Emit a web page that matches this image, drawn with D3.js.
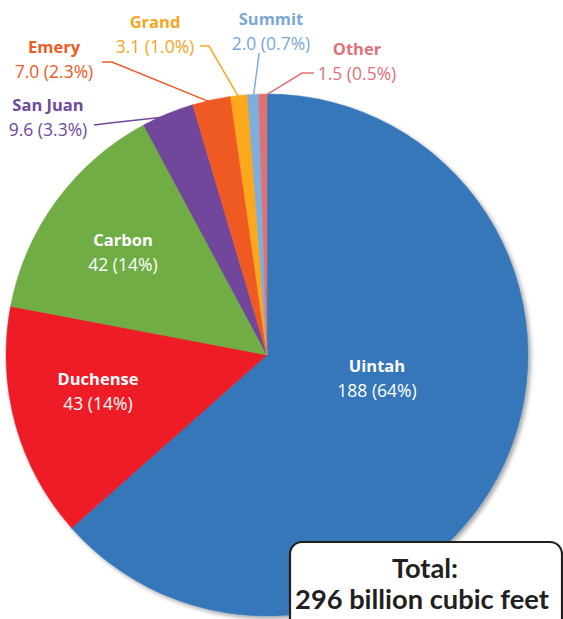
<!DOCTYPE html>
<html>
<head>
<meta charset="utf-8">
<script src="https://cdn.jsdelivr.net/npm/d3@7"></script>
<style>
  html, body { margin: 0; padding: 0; background: #fff; }
  svg { display: block; }
  text { font-family: "Open Sans", Lato, "Liberation Sans", sans-serif; }
</style>
</head>
<body>
<svg id="chart" width="563" height="619"></svg>
<script>
// ---- data ----
const categories = ["Uintah", "Duchense", "Carbon", "San Juan", "Emery", "Grand", "Summit", "Other"];
const values     = [188, 43, 42, 9.6, 7.0, 3.1, 2.0, 1.5];
const valueLabels = ["188", "43", "42", "9.6", "7.0", "3.1", "2.0", "1.5"];
const pctLabels   = ["64%", "14%", "14%", "3.3%", "2.3%", "1.0%", "0.7%", "0.5%"];
const totalLabel  = ["Total:", "296 billion cubic feet"];

// ---- styles / layout ----
const sliceColors = ["#3577B8", "#EE1F25", "#70AD45", "#71479B", "#EF5A24", "#FBA81C", "#7EAEDC", "#E07172"];
const textColors  = ["#ffffff", "#ffffff", "#ffffff", "#6E4A9B", "#EF5A24", "#F9A51A", "#7BA7D7", "#E0707A"];
const cx = 267, cy = 355, R = 261;
// label anchor (center of name line), for each category
const labelPos = [[377, 365], [98, 378], [123, 239], [48, 104], [54, 46], [155, 21], [271, 18], [357, 48]];
const lineGap = 24.5;
// leader lines: [label-end point, elbow] ; the pie end is computed from the arc
const leaders = {
  3: [[94, 125], [110, 123]],
  4: [[102, 62], [112, 62]],
  5: [[200, 46], [209, 46]],
  6: [[259, 53], [259, 54]],
  7: [[314, 73], [302, 73]]
};

const svg = d3.select("#chart");
const defs = svg.append("defs");
const f = defs.append("filter").attr("id", "shadow").attr("x", "-10%").attr("y", "-10%").attr("width", "120%").attr("height", "120%");
f.append("feDropShadow").attr("dx", 2.5).attr("dy", 2.5).attr("stdDeviation", 2).attr("flood-color", "#000").attr("flood-opacity", 0.35);

const pie = d3.pie().sort(null).value(d => d);
const arcs = pie(values);
const arc = d3.arc().innerRadius(0).outerRadius(R);

const g = svg.append("g").attr("transform", `translate(${cx},${cy})`);
const sliceG = g.append("g").attr("filter", "url(#shadow)");
sliceG.selectAll("path").data(arcs).join("path")
  .attr("d", arc)
  .attr("fill", (d, i) => sliceColors[i])
  .attr("stroke", (d, i) => sliceColors[i])
  .attr("stroke-width", 0.5);

// leader lines
Object.keys(leaders).forEach(k => {
  const i = +k;
  const a = arcs[i];
  const mid = (a.startAngle + a.endAngle) / 2;
  const ex = cx + (R - 3) * Math.sin(mid), ey = cy - (R - 3) * Math.cos(mid);
  const pts = [leaders[i][0], leaders[i][1], [ex, ey]];
  svg.append("path")
    .attr("d", d3.line()(pts))
    .attr("fill", "none")
    .attr("stroke", sliceColors[i])
    .attr("stroke-width", 1.5);
});

// labels
categories.forEach((c, i) => {
  const [x, y] = labelPos[i];
  const t = svg.append("text")
    .attr("x", x).attr("y", y)
    .attr("text-anchor", "middle")
    .attr("dominant-baseline", "central")
    .attr("fill", textColors[i]);
  t.append("tspan").attr("x", x).attr("font-weight", "bold").attr("font-size", 16.5).text(c);
  t.append("tspan").attr("x", x).attr("dy", lineGap).attr("font-size", 17.5)
    .text(`${valueLabels[i]} (${pctLabels[i]})`);
});

// total box
const box = svg.append("g");
box.append("rect")
  .attr("x", 290).attr("y", 542).attr("width", 272).attr("height", 95)
  .attr("rx", 12).attr("ry", 12)
  .attr("fill", "#fff").attr("stroke", "#231F20").attr("stroke-width", 2.2);
const tl1 = box.append("text").attr("x", 425).attr("y", 567)
  .attr("text-anchor", "middle").attr("dominant-baseline", "central")
  .attr("font-weight", "bold").attr("font-size", 22).attr("fill", "#231F20")
  .style("font-family", "Lato, 'DejaVu Sans', sans-serif")
  .text(totalLabel[0]);
const tl2 = box.append("text").attr("x", 422).attr("y", 598)
  .attr("text-anchor", "middle").attr("dominant-baseline", "central")
  .attr("font-weight", "bold").attr("font-size", 22).attr("fill", "#231F20")
  .style("font-family", "Lato, 'DejaVu Sans', sans-serif")
  .text(totalLabel[1]);
// fit second line to the reference width
const w = tl2.node().getComputedTextLength();
const target = 254;
const fs = 22 * target / w;
tl2.attr("font-size", fs);
tl1.attr("font-size", fs);
</script>
</body>
</html>
